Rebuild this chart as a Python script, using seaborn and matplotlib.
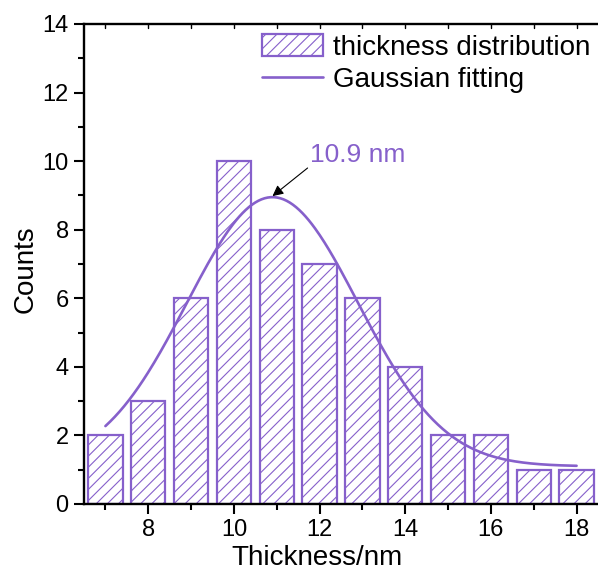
import numpy as np
import pandas as pd
import matplotlib
matplotlib.use("Agg")
import matplotlib.pyplot as plt
from matplotlib.patches import Patch
from matplotlib.lines import Line2D
from matplotlib.ticker import MultipleLocator
import seaborn as sns

# Histogram of measured thickness (nm) and counts per bin
thickness = [7, 8, 9, 10, 11, 12, 13, 14, 15, 16, 17, 18]
counts = [2, 3, 6, 10, 8, 7, 6, 4, 2, 2, 1, 1]

# Gaussian fit parameters: y0 + A * exp(-(x - xc)^2 / (2 w^2))
fit_xc = 10.9
fit_y0 = 1.1
fit_A = 7.85
fit_w = 2.0
fit_range = [7, 18]

purple = "#8660CB"

sns.set_theme(style="white")
plt.rcParams["font.family"] = ["Liberation Sans", "DejaVu Sans"]
plt.rcParams["text.color"] = "black"
plt.rcParams["axes.labelcolor"] = "black"
plt.rcParams["xtick.color"] = "black"
plt.rcParams["ytick.color"] = "black"
plt.rcParams["hatch.linewidth"] = 0.8
plt.rcParams["hatch.color"] = purple

fig = plt.figure(figsize=(5.98, 5.78), dpi=100)
ax = fig.add_axes([84 / 598, 74 / 578, 514 / 598, 480 / 578])

df = pd.DataFrame({"thickness": thickness, "counts": counts})
sns.barplot(data=df, x="thickness", y="counts", native_scale=True,
            width=0.8, color=purple, fill=False, linewidth=1.6, ax=ax)
for p in ax.patches:
    p.set_hatch("///")
    p.set_facecolor("white")
    p.set_edgecolor(purple)
    p.set_linewidth(1.6)

xs = np.linspace(fit_range[0], fit_range[1], 300)
ys = fit_y0 + fit_A * np.exp(-(xs - fit_xc) ** 2 / (2 * fit_w ** 2))
sns.lineplot(x=xs, y=ys, color=purple, linewidth=1.9, ax=ax)
peak_y = fit_y0 + fit_A

ax.annotate("", xy=(fit_xc, peak_y + 0.03), xytext=(11.72, 9.8),
            arrowprops=dict(arrowstyle="-|>", color="black", lw=0.8,
                            mutation_scale=16, shrinkA=0, shrinkB=0))
ax.text(11.78, 9.97, f"{fit_xc} nm", color=purple, fontsize=19,
        va="baseline", ha="left")

ax.set_xlim(6.5, 18.5)
ax.set_ylim(0, 14)
ax.xaxis.set_major_locator(MultipleLocator(2))
ax.xaxis.set_minor_locator(MultipleLocator(1))
ax.yaxis.set_major_locator(MultipleLocator(2))
ax.yaxis.set_minor_locator(MultipleLocator(1))
ax.set_xlabel("Thickness/nm", fontsize=20)
ax.set_ylabel("Counts", fontsize=20)
ax.xaxis.set_label_coords(0.453, -0.085)
ax.yaxis.set_label_coords(-0.089, 0.49)

for side in ["left", "bottom", "top"]:
    ax.spines[side].set_color("black")
    ax.spines[side].set_linewidth(1.7)
ax.spines["right"].set_visible(False)

ax.tick_params(axis="both", which="major", direction="out", length=7,
               width=1.5, labelsize=17, pad=4,
               bottom=True, left=True, top=False, right=False)
ax.tick_params(axis="both", which="minor", direction="out", length=4,
               width=1.5, bottom=True, left=True, top=False, right=False)

# small inward marks along the top spine
for xv in range(7, 19):
    ax.plot([xv, xv], [14, 13.88], color="black", lw=1.0, clip_on=False)

handles = [
    Patch(facecolor="white", edgecolor=purple, hatch="///", linewidth=1.6),
    Line2D([0], [0], color=purple, lw=1.9),
]
ax.legend(handles, ["thickness distribution", "Gaussian fitting"],
          loc="upper left", bbox_to_anchor=(262 / 598, 1 - 34 / 578),
          bbox_transform=fig.transFigure, frameon=False, fontsize=20,
          handlelength=2.2, handleheight=0.85, handletextpad=0.35,
          labelspacing=0.2, borderpad=0, borderaxespad=0)

fig.savefig("out.png", dpi=100)
